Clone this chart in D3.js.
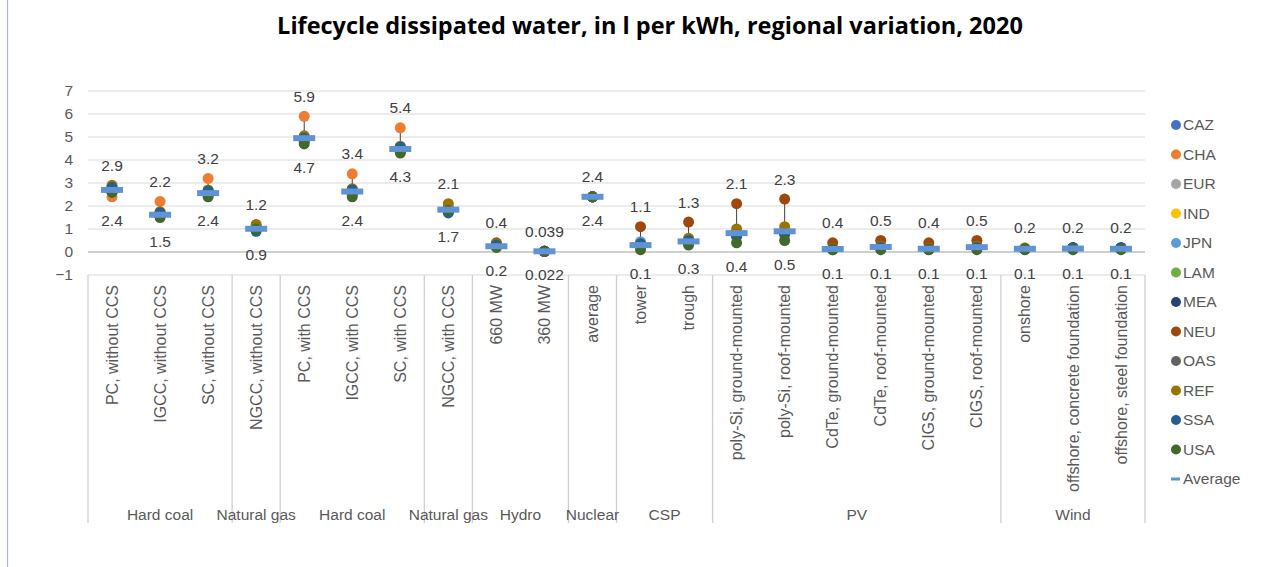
<!DOCTYPE html>
<html>
<head>
<meta charset="utf-8">
<script src="https://cdn.jsdelivr.net/npm/d3@7"></script>
<style>
  html, body { margin: 0; padding: 0; background: #fff; }
  svg { display: block; }
</style>
</head>
<body>
<svg id="chart" width="1288" height="567"></svg>
<script>
// Technologies (inner axis level) and their groups (outer axis level)
const categories = [
  "PC, without CCS", "IGCC, without CCS", "SC, without CCS",
  "NGCC, without CCS",
  "PC, with CCS", "IGCC, with CCS", "SC, with CCS",
  "NGCC, with CCS",
  "660 MW", "360 MW",
  "average",
  "tower", "trough",
  "poly-Si, ground-mounted", "poly-Si, roof-mounted", "CdTe, ground-mounted",
  "CdTe, roof-mounted", "CIGS, ground-mounted", "CIGS, roof-mounted",
  "onshore", "offshore, concrete foundation", "offshore, steel foundation"
];
const groupNames = ["Hard coal", "Natural gas", "Hard coal", "Natural gas", "Hydro", "Nuclear", "CSP", "PV", "Wind"];
const groupSizes = [3, 1, 3, 1, 2, 1, 2, 6, 3];

const regions = ["CAZ", "CHA", "EUR", "IND", "JPN", "LAM", "MEA", "NEU", "OAS", "REF", "SSA", "USA"];
const regionColors = ["#4472C4", "#ED7D31", "#A5A5A5", "#FFC000", "#5B9BD5", "#70AD47",
                      "#264478", "#9E480E", "#636363", "#997300", "#255E91", "#43682B"];

// Dissipated water, l per kWh, one array per region (same order as categories)
const valuesCAZ = [2.7, 1.6, 2.5, 1.0, 4.9, 2.6, 4.45, 1.8, 0.25, 0.03, 2.4, 0.25, 0.4, 0.7, 0.8, 0.12, 0.2, 0.12, 0.2, 0.12, 0.15, 0.14];
const valuesCHA = [2.4, 2.2, 3.2, 1.05, 5.9, 3.4, 5.4, 1.85, 0.3, 0.035, 2.4, 0.3, 0.45, 0.75, 0.85, 0.13, 0.22, 0.13, 0.22, 0.13, 0.16, 0.15];
const valuesEUR = [2.6, 1.55, 2.5, 1.0, 4.85, 2.55, 4.4, 1.8, 0.25, 0.03, 2.4, 0.2, 0.35, 0.65, 0.75, 0.1, 0.18, 0.11, 0.18, 0.12, 0.15, 0.14];
const valuesIND = [2.8, 1.7, 2.65, 1.1, 5.0, 2.7, 4.55, 1.9, 0.3, 0.035, 2.4, 0.35, 0.5, 0.8, 0.9, 0.14, 0.24, 0.14, 0.24, 0.2, 0.17, 0.16];
const valuesJPN = [2.6, 1.55, 2.5, 1.0, 4.85, 2.55, 4.4, 1.8, 0.25, 0.03, 2.4, 0.45, 0.45, 0.7, 0.8, 0.12, 0.2, 0.12, 0.2, 0.12, 0.15, 0.14];
const valuesLAM = [2.7, 1.6, 2.55, 1.05, 4.9, 2.6, 4.45, 1.85, 0.3, 0.03, 2.4, 0.3, 0.45, 0.7, 0.8, 0.12, 0.2, 0.12, 0.2, 0.13, 0.16, 0.15];
const valuesMEA = [2.8, 1.7, 2.65, 1.1, 5.0, 2.7, 4.55, 1.9, 0.3, 0.035, 2.4, 0.35, 0.5, 0.75, 0.85, 0.13, 0.22, 0.13, 0.22, 0.14, 0.2, 0.2];
const valuesNEU = [2.6, 1.55, 2.5, 0.95, 4.8, 2.5, 4.35, 1.75, 0.4, 0.039, 2.4, 1.1, 1.3, 2.1, 2.3, 0.4, 0.5, 0.4, 0.5, 0.13, 0.15, 0.14];
const valuesOAS = [2.7, 1.65, 2.6, 1.05, 4.95, 2.65, 4.5, 1.85, 0.3, 0.03, 2.4, 0.3, 0.45, 0.75, 0.85, 0.13, 0.22, 0.13, 0.22, 0.13, 0.16, 0.15];
const valuesREF = [2.9, 1.75, 2.7, 1.2, 5.05, 2.75, 4.6, 2.1, 0.35, 0.035, 2.4, 0.35, 0.6, 1.0, 1.1, 0.15, 0.25, 0.15, 0.25, 0.15, 0.17, 0.16];
const valuesSSA = [2.8, 1.7, 2.65, 0.9, 4.95, 2.7, 4.55, 1.7, 0.3, 0.03, 2.4, 0.35, 0.5, 0.7, 0.8, 0.12, 0.2, 0.12, 0.2, 0.14, 0.18, 0.17];
const valuesUSA = [2.6, 1.5, 2.4, 1.0, 4.7, 2.4, 4.3, 1.8, 0.2, 0.022, 2.4, 0.1, 0.3, 0.4, 0.5, 0.1, 0.1, 0.1, 0.1, 0.1, 0.1, 0.1];
const averageValues = [2.7, 1.62, 2.56, 1.01, 4.95, 2.63, 4.48, 1.84, 0.25, 0.03, 2.4, 0.3, 0.46, 0.82, 0.9, 0.13, 0.22, 0.14, 0.21, 0.14, 0.15, 0.14];

const yTicks = [-1, 0, 1, 2, 3, 4, 5, 6, 7];

const regionValues = [valuesCAZ, valuesCHA, valuesEUR, valuesIND, valuesJPN, valuesLAM,
                      valuesMEA, valuesNEU, valuesOAS, valuesREF, valuesSSA, valuesUSA];

const svg = d3.select("#chart");
const W = 1288, H = 567;
const plot = { left: 88, right: 1145, top: 91, bottom: 275 };
const labelFont = "'Liberation Sans', Arial, sans-serif";
const fs = 15.5;

// Frame edge on the left
svg.append("line")
  .attr("x1", 7.5).attr("x2", 7.5).attr("y1", 0).attr("y2", H)
  .attr("stroke", "#aeb8c6").attr("stroke-width", 1.2);

// Title
svg.append("text")
  .attr("x", 650).attr("y", 34)
  .attr("text-anchor", "middle")
  .attr("font-family", "'Open Sans', 'Noto Sans', sans-serif")
  .attr("font-weight", 700)
  .attr("font-size", 23.5)
  .attr("fill", "#000")
  .text("Lifecycle dissipated water, in l per kWh, regional variation, 2020");

const x = d3.scaleBand()
  .domain(d3.range(categories.length))
  .range([plot.left, plot.right])
  .padding(0);
const y = d3.scaleLinear()
  .domain([d3.min(yTicks), d3.max(yTicks)])
  .range([plot.bottom, plot.top]);

// Horizontal gridlines
svg.append("g").selectAll("line")
  .data(yTicks)
  .join("line")
  .attr("x1", plot.left).attr("x2", plot.right)
  .attr("y1", d => y(d)).attr("y2", d => y(d))
  .attr("stroke", d => d === 0 ? "#bfbfbf" : "#d9d9d9")
  .attr("stroke-width", d => d === 0 ? 1.6 : 1);

// Y axis labels
const yAxis = d3.axisLeft(y).tickValues(yTicks).tickSize(0).tickPadding(15).tickFormat(d3.format("d"));
const gy = svg.append("g").attr("transform", `translate(${plot.left},0)`).call(yAxis);
gy.select(".domain").remove();
gy.selectAll("text")
  .attr("font-family", labelFont).attr("font-size", fs).attr("fill", "#595959");

// Category axis: rotated technology labels
const gx = svg.append("g");
gx.selectAll("text.cat")
  .data(categories)
  .join("text")
  .attr("class", "cat")
  .attr("transform", (d, i) => `translate(${x(i) + x.bandwidth() / 2},285) rotate(-90)`)
  .attr("dy", "0.35em")
  .attr("text-anchor", "end")
  .attr("font-family", labelFont).attr("font-size", fs + 0.5).attr("fill", "#595959")
  .text(d => d);

// Group separators and group labels
const groupStarts = groupSizes.map((n, i) => d3.sum(groupSizes.slice(0, i)));
const boundaries = groupStarts.concat([categories.length]);
gx.selectAll("line.sep")
  .data(boundaries)
  .join("line")
  .attr("class", "sep")
  .attr("x1", d => d < categories.length ? x(d) : plot.right)
  .attr("x2", d => d < categories.length ? x(d) : plot.right)
  .attr("y1", plot.bottom).attr("y2", 523)
  .attr("stroke", "#cfcfcf").attr("stroke-width", 1.3);
gx.selectAll("text.grp")
  .data(groupNames)
  .join("text")
  .attr("class", "grp")
  .attr("x", (d, i) => {
    const a = x(groupStarts[i]);
    const b = groupStarts[i] + groupSizes[i] < categories.length ? x(groupStarts[i] + groupSizes[i]) : plot.right;
    return (a + b) / 2;
  })
  .attr("y", 520)
  .attr("text-anchor", "middle")
  .attr("font-family", labelFont).attr("font-size", fs).attr("fill", "#595959")
  .text(d => d);

// Per-category spread: min/max across regions
const spread = categories.map((c, i) => {
  const vals = regionValues.map(v => v[i]);
  return { i, min: d3.min(vals), max: d3.max(vals) };
});

// High-low lines
svg.append("g").selectAll("line")
  .data(spread)
  .join("line")
  .attr("x1", d => x(d.i) + x.bandwidth() / 2)
  .attr("x2", d => x(d.i) + x.bandwidth() / 2)
  .attr("y1", d => y(d.min)).attr("y2", d => y(d.max))
  .attr("stroke", "#404040").attr("stroke-width", 1);

// Region markers
const gDots = svg.append("g");
regions.forEach((r, k) => {
  gDots.append("g").selectAll("circle")
    .data(regionValues[k])
    .join("circle")
    .attr("cx", (d, i) => x(i) + x.bandwidth() / 2)
    .attr("cy", d => y(d))
    .attr("r", 5.5)
    .attr("fill", regionColors[k]);
});

// Average dashes
const avgColor = "#5F93D6";
svg.append("g").selectAll("rect")
  .data(averageValues)
  .join("rect")
  .attr("x", (d, i) => x(i) + x.bandwidth() / 2 - 11)
  .attr("y", d => y(d) - 3)
  .attr("width", 22).attr("height", 6)
  .attr("fill", avgColor);

// Max / min value labels
const gLab = svg.append("g")
  .attr("font-family", labelFont).attr("font-size", fs).attr("fill", "#404040")
  .attr("text-anchor", "middle");
gLab.selectAll("text.max")
  .data(spread)
  .join("text")
  .attr("class", "max")
  .attr("x", d => x(d.i) + x.bandwidth() / 2)
  .attr("y", d => y(d.max) - 14.5)
  .text(d => String(d.max));
gLab.selectAll("text.min")
  .data(spread)
  .join("text")
  .attr("class", "min")
  .attr("x", d => x(d.i) + x.bandwidth() / 2)
  .attr("y", d => y(d.min) + 29)
  .text(d => String(d.min));

// Legend
const legend = svg.append("g").attr("transform", "translate(1176,125)");
const legendItems = regions.concat(["Average"]);
const rows = legend.selectAll("g")
  .data(legendItems)
  .join("g")
  .attr("transform", (d, i) => `translate(0,${i * 29.5})`);
rows.each(function (d, i) {
  const g = d3.select(this);
  if (i < regions.length) {
    g.append("circle").attr("r", 5).attr("fill", regionColors[i]);
  } else {
    g.append("rect").attr("x", -5).attr("y", -1.5).attr("width", 9).attr("height", 3).attr("fill", avgColor);
  }
  g.append("text")
    .attr("x", 7).attr("dy", "0.35em")
    .attr("font-family", labelFont).attr("font-size", fs).attr("fill", "#595959")
    .text(d);
});
</script>
</body>
</html>
